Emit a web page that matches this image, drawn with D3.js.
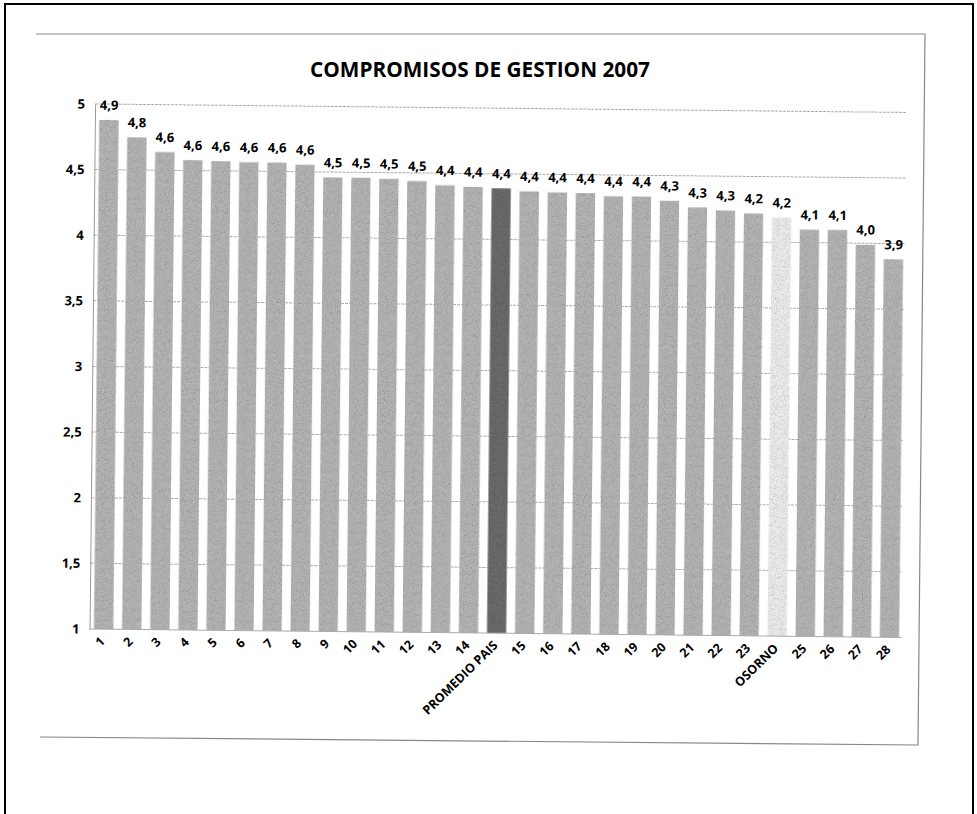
<!DOCTYPE html>
<html><head><meta charset="utf-8">
<script src="https://cdn.jsdelivr.net/npm/d3@7"></script>
<style>
html,body{margin:0;padding:0;background:#fff;}
svg{display:block;font-family:"Open Sans",Lato,sans-serif;}
</style></head>
<body><svg id="c" width="977" height="814"></svg>
<script>
const categories = ["1","2","3","4","5","6","7","8","9","10","11","12","13","14","PROMEDIO PAIS","15","16","17","18","19","20","21","22","23","OSORNO","25","26","27","28"];
const values = [4.88,4.75,4.64,4.58,4.575,4.57,4.57,4.555,4.46,4.46,4.455,4.44,4.41,4.40,4.39,4.37,4.365,4.36,4.34,4.34,4.31,4.26,4.24,4.22,4.19,4.10,4.10,3.99,3.88];
const valueLabels = ["4,9","4,8","4,6","4,6","4,6","4,6","4,6","4,6","4,5","4,5","4,5","4,5","4,4","4,4","4,4","4,4","4,4","4,4","4,4","4,4","4,3","4,3","4,3","4,2","4,2","4,1","4,1","4,0","3,9"];
const yTicks = [1,1.5,2,2.5,3,3.5,4,4.5,5];
const yTickLabels = ["1","1,5","2","2,5","3","3,5","4","4,5","5"];
const title = "COMPROMISOS DE GESTION 2007";

const svg = d3.select("#c");
const defs = svg.append("defs");
const f = defs.append("filter").attr("id","grain").attr("x",0).attr("y",0).attr("width","100%").attr("height","100%");
f.append("feTurbulence").attr("type","fractalNoise").attr("baseFrequency",1.1).attr("numOctaves",1).attr("seed",4).attr("result","n");
f.append("feColorMatrix").attr("in","n").attr("type","saturate").attr("values",0).attr("result","g");
const ct = f.append("feComponentTransfer").attr("in","g").attr("result","g2");
ct.append("feFuncR").attr("type","linear").attr("slope",1.6).attr("intercept",0.15);
ct.append("feFuncG").attr("type","linear").attr("slope",1.6).attr("intercept",0.15);
ct.append("feFuncB").attr("type","linear").attr("slope",1.6).attr("intercept",0.15);
ct.append("feFuncA").attr("type","linear").attr("slope",0).attr("intercept",1);
f.append("feBlend").attr("in","SourceGraphic").attr("in2","g2").attr("mode","multiply").attr("result","b");
f.append("feComposite").attr("in","b").attr("in2","SourceGraphic").attr("operator","in");

// page border
svg.append("path").attr("d","M5,814 L5,4 L973,4 L973,814").attr("fill","none").attr("stroke","#000").attr("stroke-width",2);

// chart frame (scanned, slightly skewed)
svg.append("path").attr("d","M36,34 L925,34 L918,745 L40,737").attr("fill","none").attr("stroke","#888").attr("stroke-width",1.2);

// title
svg.append("text").attr("x",480).attr("y",77).attr("text-anchor","middle")
  .attr("font-size",21).attr("font-weight",700).attr("fill","#000")
  .attr("textLength",340).attr("lengthAdjust","spacingAndGlyphs").text(title);

const g = svg.append("g").attr("transform","rotate(0.6,480,400)");

const x = d3.scaleBand().domain(categories).range([92,906]).paddingInner(0.3).paddingOuter(0.15);
const y = d3.scaleLinear().domain([1,5]).range([633,108]);

// gridlines
g.append("g").selectAll("line").data(yTicks.slice(1)).join("line")
  .attr("x1",92).attr("x2",904).attr("y1",d=>y(d)).attr("y2",d=>y(d))
  .attr("stroke","#aaa").attr("stroke-width",1).attr("stroke-dasharray","3,1");

// y axis
const ya = g.append("g").attr("transform","translate(92,0)")
  .call(d3.axisLeft(y).tickValues(yTicks).tickSize(0).tickPadding(10).tickFormat((d,i)=>yTickLabels[i]));
ya.select(".domain").attr("stroke","#999");
ya.selectAll("text").attr("font-size",13).attr("font-weight",700).attr("fill","#000").attr("font-family","Open Sans");

// bars
g.append("g").selectAll("rect").data(values).join("rect")
  .attr("x",(d,i)=>x(categories[i])).attr("width",x.bandwidth())
  .attr("y",d=>y(d)).attr("height",d=>y(1)-y(d))
  .attr("fill",(d,i)=>categories[i]==="PROMEDIO PAIS"?"#6a6a6a":categories[i]==="OSORNO"?"#ececec":"#b4b4b4")
  .attr("filter","url(#grain)");

// x axis
const xa = g.append("g").attr("transform","translate(0,633)")
  .call(d3.axisBottom(x).tickSize(0).tickPadding(0));
xa.select(".domain").attr("stroke","#aaa").attr("d","M92,0H904");
xa.selectAll("text").attr("font-size",12.5).attr("font-weight",700).attr("fill","#000").attr("font-family","Open Sans")
  .attr("text-anchor","end").attr("dy","0.35em")
  .attr("transform","translate(-1,10) rotate(-45)");

// value labels
g.append("g").selectAll("text").data(values).join("text")
  .attr("x",(d,i)=>x(categories[i])+x.bandwidth()/2).attr("y",d=>y(d)-10)
  .attr("text-anchor","middle").attr("font-size",13).attr("font-weight",700).attr("fill","#000")
  .text((d,i)=>valueLabels[i]);
</script></body></html>
